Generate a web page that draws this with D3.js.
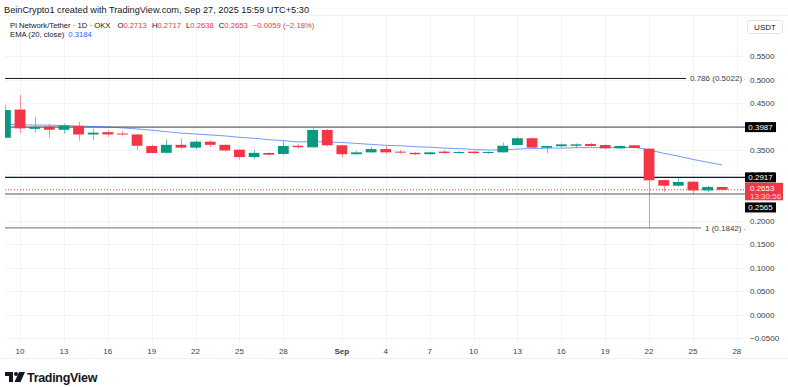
<!DOCTYPE html>
<html>
<head>
<meta charset="utf-8">
<script src="https://cdn.jsdelivr.net/npm/d3@7.9.0/dist/d3.min.js"></script>
<style>
  body { margin: 0; background: #fff; }
  svg { display: block; font-family: "Liberation Sans", Arial, sans-serif; }
</style>
</head>
<body>
<svg id="chart" width="788" height="387"></svg>
<script>
// daily candles, Aug 9 -> Sep 27 2025
const startDay = '2025-08-09';
const opens  = [0.376,0.436,0.395,0.400,0.393,0.401,0.383,0.388,0.385,0.383,0.3585,0.344,0.361,0.355,0.3677,0.361,0.3507,0.335,0.3436,0.3415,0.359,0.3557,0.3926,0.360,0.341,0.345,0.352,0.3465,0.344,0.341,0.3465,0.3436,0.3465,0.3436,0.345,0.3606,0.375,0.355,0.358,0.359,0.3628,0.3606,0.3536,0.360,0.3528,0.286,0.274,0.2826,0.264,0.2713];
const highs  = [0.446,0.467,0.421,0.405,0.406,0.410,0.396,0.392,0.390,0.384,0.361,0.373,0.375,0.371,0.371,0.362,0.351,0.350,0.345,0.369,0.362,0.398,0.395,0.361,0.3485,0.356,0.3585,0.350,0.346,0.346,0.350,0.348,0.348,0.347,0.366,0.378,0.377,0.359,0.364,0.364,0.365,0.362,0.360,0.361,0.354,0.286,0.291,0.284,0.2734,0.2717];
const lows   = [0.376,0.386,0.387,0.376,0.385,0.370,0.371,0.378,0.381,0.350,0.343,0.343,0.3515,0.3515,0.356,0.3465,0.330,0.330,0.339,0.339,0.353,0.3557,0.358,0.3345,0.340,0.344,0.341,0.342,0.339,0.340,0.342,0.342,0.342,0.342,0.345,0.360,0.354,0.343,0.355,0.354,0.357,0.352,0.352,0.353,0.1842,0.261,0.272,0.2563,0.260,0.2638];
const closes = [0.435,0.396,0.399,0.393,0.402,0.383,0.387,0.383,0.383,0.359,0.3436,0.361,0.355,0.3677,0.361,0.349,0.335,0.344,0.340,0.3585,0.356,0.3926,0.360,0.341,0.345,0.352,0.345,0.345,0.341,0.345,0.3436,0.3457,0.3436,0.3457,0.359,0.375,0.355,0.3585,0.362,0.362,0.3585,0.3536,0.3585,0.3543,0.2855,0.274,0.282,0.264,0.2712,0.2653];
const ema20  = [0.404,0.404,0.403,0.403,0.402,0.401,0.400,0.399,0.397,0.395,0.392,0.389,0.386,0.384,0.382,0.380,0.377,0.375,0.372,0.370,0.367,0.368,0.367,0.366,0.364,0.362,0.360,0.359,0.357,0.356,0.354,0.353,0.351,0.350,0.350,0.352,0.353,0.354,0.354,0.355,0.355,0.355,0.355,0.356,0.350,0.343,0.337,0.330,0.324,0.3184];

const priceTicks = [0.55,0.5,0.45,0.4,0.35,0.3,0.25,0.2,0.15,0.1,0.05,0,-0.05];
const hiddenTickLabels = [0.4, 0.25]; // covered by the level boxes
const dateTicks = ['2025-08-10','2025-08-13','2025-08-16','2025-08-19','2025-08-22','2025-08-25','2025-08-28','2025-09-01','2025-09-04','2025-09-07','2025-09-10','2025-09-13','2025-09-16','2025-09-19','2025-09-22','2025-09-25','2025-09-28'];
const fibLabels = ['0.786 (0.5022)', null, null, null, '1 (0.1842)'];
const levelValues = [0.5022, 0.3987, 0.2917, 0.2565, 0.1842];
const lastPrice = 0.2653;
const countdown = '13:30:56';

const W = 788, H = 387;
const plotL = 5, plotR = 745, plotT = 16, plotB = 342;
const green = '#089981', red = '#f23645', txt = '#131722';

const svg = d3.select('#chart');
const parse = d3.utcParse('%Y-%m-%d');
const d0 = parse(startDay);
const candles = opens.map((o, i) => ({
  date: d3.utcDay.offset(d0, i), o, h: highs[i], l: lows[i], c: closes[i], ema: ema20[i]
}));

const x = d3.scaleUtc()
  .domain([d0, candles[candles.length - 1].date])
  .range([5.4, 722.2]);
const y = d3.scaleLinear().domain([0, 0.55]).range([314.5, 56]);

// frame
svg.append('line').attr('x1', 0).attr('x2', W).attr('y1', plotT - 0.5).attr('y2', plotT - 0.5).attr('stroke', '#eef0f4');
svg.append('line').attr('x1', 0).attr('x2', W).attr('y1', 358.5).attr('y2', 358.5).attr('stroke', '#eef0f4');

// grid
const grid = svg.append('g').attr('stroke', '#f2f3f6').attr('stroke-width', 1);
grid.selectAll('.gy').data(priceTicks).enter().append('line')
  .attr('x1', plotL).attr('x2', plotR)
  .attr('y1', d => Math.round(y(d)) + 0.5).attr('y2', d => Math.round(y(d)) + 0.5);
grid.selectAll('.gx').data(dateTicks).enter().append('line')
  .attr('y1', plotT).attr('y2', plotB)
  .attr('x1', d => Math.round(x(parse(d))) + 0.5).attr('x2', d => Math.round(x(parse(d))) + 0.5);

// header texts
svg.append('text').attr('x', 4).attr('y', 13).attr('font-size', 9.2).attr('fill', txt)
  .text('BeinCrypto1 created with TradingView.com, Sep 27, 2025 15:59 UTC+5:30');

const last = candles[candles.length - 1];
const prev = candles[candles.length - 2];
const chg = last.c - prev.c;
const fmt = d3.format('.4f');
const legend = svg.append('text').attr('x', 10).attr('y', 27.5).attr('font-size', 7.7).attr('fill', txt);
legend.append('tspan').text('Pi Network/Tether · 1D · OKX');
[['O', last.o], ['H', last.h], ['L', last.l], ['C', last.c]].forEach(([k, v], i) => {
  legend.append('tspan').attr('dx', i === 0 ? 7 : 5).text(k);
  legend.append('tspan').attr('fill', red).text(fmt(v));
});
legend.append('tspan').attr('dx', 5).attr('fill', red)
  .text(`−${fmt(Math.abs(chg))} (−${(Math.abs(chg) / prev.c * 100).toFixed(2)}%)`);

const emaLeg = svg.append('text').attr('x', 10).attr('y', 37).attr('font-size', 7.7).attr('fill', txt);
emaLeg.append('tspan').text('EMA (20, close)');
emaLeg.append('tspan').attr('dx', 4).attr('fill', '#2962ff').text(fmt(last.ema));

// plot
const clip = svg.append('clipPath').attr('id', 'clip');
clip.append('rect').attr('x', plotL).attr('y', plotT).attr('width', plotR - plotL).attr('height', plotB - plotT);
const plot = svg.append('g').attr('clip-path', 'url(#clip)');

// level lines
const levelStyle = [
  { stroke: '#131722', width: 1, end: 686 },
  { stroke: '#8a8c92', width: 1.6, end: plotR },
  { stroke: '#131722', width: 1.2, end: plotR },
  { stroke: '#8a8c92', width: 1.4, end: plotR },
  { stroke: '#8a8c92', width: 1.2, end: 701 }
];
levelValues.forEach((v, i) => {
  plot.append('line')
    .attr('x1', plotL).attr('x2', levelStyle[i].end)
    .attr('y1', y(v)).attr('y2', y(v))
    .attr('stroke', levelStyle[i].stroke).attr('stroke-width', levelStyle[i].width);
  if (fibLabels[i]) {
    plot.append('text').attr('x', levelStyle[i].end + 4).attr('y', y(v) + 3)
      .attr('font-size', 8).attr('fill', '#3b3e45').text(fibLabels[i] + ' -');
  }
});

// last price dotted line
plot.append('line').attr('x1', plotL).attr('x2', plotR)
  .attr('y1', y(lastPrice)).attr('y2', y(lastPrice))
  .attr('stroke', red).attr('stroke-width', 1).attr('stroke-dasharray', '1,2');

// EMA
plot.append('path').datum(candles)
  .attr('fill', 'none').attr('stroke', '#2962ff').attr('stroke-opacity', 0.65).attr('stroke-width', 1)
  .attr('d', d3.line().x(d => x(d.date)).y(d => y(d.ema)));

// candles
const bw = 10.8;
const cg = plot.selectAll('.candle').data(candles).enter().append('g');
cg.append('line')
  .attr('x1', d => Math.round(x(d.date)) + 0.5).attr('x2', d => Math.round(x(d.date)) + 0.5)
  .attr('y1', d => y(d.h)).attr('y2', d => y(d.l))
  .attr('stroke', d => d.c >= d.o ? green : red).attr('stroke-opacity', 0.55);
cg.append('rect')
  .attr('x', d => x(d.date) - bw / 2).attr('width', bw)
  .attr('y', d => y(Math.max(d.o, d.c)))
  .attr('height', d => Math.max(1, Math.abs(y(d.o) - y(d.c))))
  .attr('fill', d => d.c >= d.o ? green : red);

// right axis labels
svg.append('g').selectAll('text')
  .data(priceTicks.filter(d => !hiddenTickLabels.includes(d))).enter().append('text')
  .attr('x', 750).attr('y', d => y(d) + 3)
  .attr('font-size', 8).attr('fill', '#3b3e45')
  .text(d => (d < 0 ? '−' : '') + fmt(Math.abs(d)));

// USDT box
svg.append('rect').attr('x', 747.5).attr('y', 20.5).attr('width', 35).attr('height', 13)
  .attr('rx', 2).attr('fill', '#fff').attr('stroke', '#e0e3eb');
svg.append('text').attr('x', 765).attr('y', 30).attr('text-anchor', 'middle')
  .attr('font-size', 8).attr('fill', txt).text('USDT');

// level price boxes
function blackBox(v, cy) {
  svg.append('rect').attr('x', 745).attr('y', cy - 5).attr('width', 31).attr('height', 10).attr('fill', '#000');
  svg.append('text').attr('x', 760.5).attr('y', cy + 3).attr('text-anchor', 'middle')
    .attr('font-size', 8).attr('fill', '#fff').text(fmt(v));
}
blackBox(levelValues[1], y(levelValues[1]));
blackBox(levelValues[2], y(levelValues[2]));
blackBox(levelValues[3], y(levelValues[3]) + 13.5);

// last price box
svg.append('rect').attr('x', 745).attr('y', y(lastPrice) - 7).attr('width', 38).attr('height', 17.5).attr('fill', red);
svg.append('text').attr('x', 750).attr('y', y(lastPrice) + 1.5).attr('font-size', 8).attr('fill', '#fff').text(fmt(lastPrice));
svg.append('text').attr('x', 750).attr('y', y(lastPrice) + 9).attr('font-size', 8).attr('fill', '#ffd5d9').text(countdown);

// bottom axis
const fmtDay = d => d.getUTCDate() === 1 ? d3.utcFormat('%b')(d) : d3.utcFormat('%-d')(d);
svg.append('g').selectAll('text').data(dateTicks).enter().append('text')
  .attr('x', d => x(parse(d))).attr('y', 354).attr('text-anchor', 'middle')
  .attr('font-size', 8).attr('fill', '#3b3e45')
  .attr('font-weight', d => parse(d).getUTCDate() === 1 ? 'bold' : 'normal')
  .text(d => fmtDay(parse(d)));

// TradingView logo
const logo = svg.append('g').attr('transform', 'translate(5,372)').attr('fill', txt);
logo.append('path').attr('d', 'M0 0 H8 V10 H4 V4 H0 Z');
logo.append('circle').attr('cx', 11).attr('cy', 2).attr('r', 2);
logo.append('path').attr('d', 'M14 0 H20 L15.5 10 H9.5 Z');
svg.append('text').attr('x', 27).attr('y', 382).attr('font-size', 12.5).attr('font-weight', 'bold')
  .attr('fill', txt).attr('letter-spacing', -0.3).text('TradingView');
</script>
</body>
</html>
